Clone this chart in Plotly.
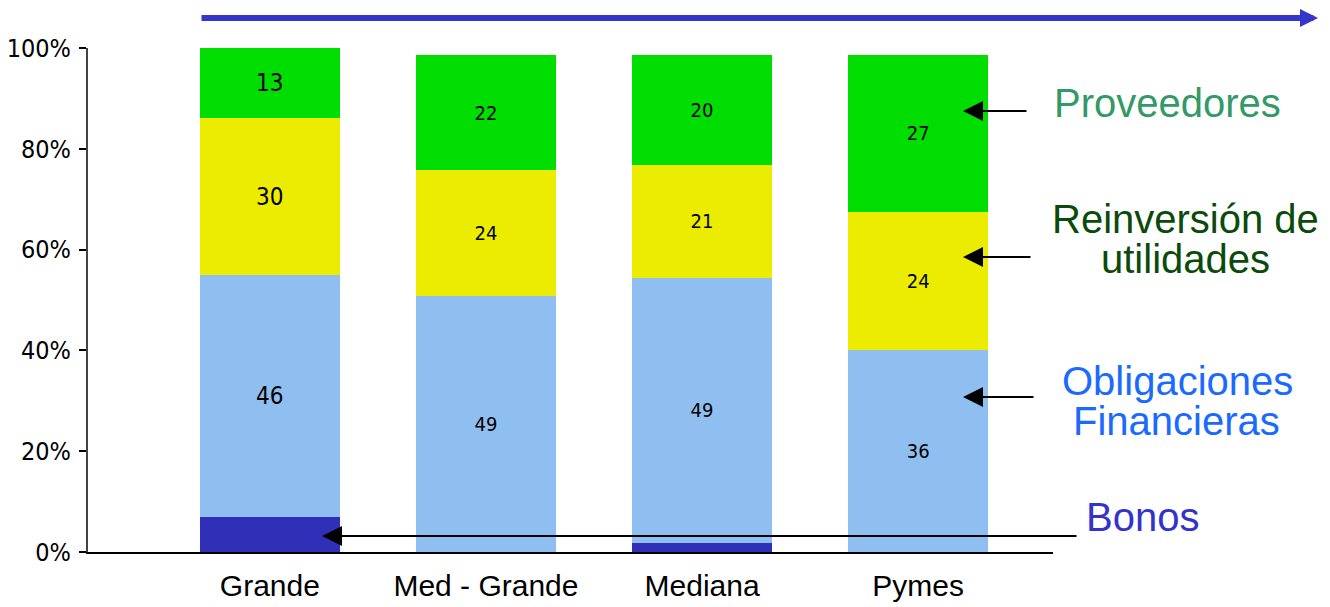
import plotly.graph_objects as go

# ---- data (shares in % of each bar) ----
categories = ["Grande", "Med - Grande", "Mediana", "Pymes"]
bonos = [6.9, 0.0, 1.8, 0.0]
obligaciones = [48.0, 50.8, 52.6, 40.1]
reinversion = [31.2, 25.0, 22.4, 27.4]
proveedores = [13.9, 22.8, 21.8, 31.2]

# labels printed on the segments
obligaciones_lbl = ["46", "49", "49", "36"]
reinversion_lbl = ["30", "24", "21", "24"]
proveedores_lbl = ["13", "22", "20", "27"]

y_ticks = [0, 20, 40, 60, 80, 100]
y_tick_text = ["0%", "20%", "40%", "60%", "80%", "100%"]

# ---- figure geometry ----
W, H = 1330, 607
ML, MR, MT, MB = 88, 277, 48, 55
PW, PH = W - ML - MR, H - MT - MB


def px(x):
    return (x - ML) / PW


def py(y):
    return (H - MB - y) / PH


NARROW = "DejaVu Sans Condensed, Liberation Sans Narrow, sans-serif"
SANS = "Liberation Sans, Arial, sans-serif"
lbl_sizes = [24, 20, 20, 20]

fig = go.Figure()
series = [
    ("Bonos", bonos, None, "#2f2fb8"),
    ("Obligaciones Financieras", obligaciones, obligaciones_lbl, "#8fbff0"),
    ("Reinversión de utilidades", reinversion, reinversion_lbl, "#ecec00"),
    ("Proveedores", proveedores, proveedores_lbl, "#00dd00"),
]
for name, vals, lbl, col in series:
    fig.add_trace(go.Bar(
        name=name, x=categories, y=vals,
        text=lbl, textposition="inside" if lbl else "none",
        insidetextanchor="middle",
        textfont=dict(family=NARROW, size=lbl_sizes, color="black"),
        marker=dict(color=col, line=dict(width=0)),
        width=0.648, hoverinfo="skip", showlegend=False,
    ))

fig.update_layout(
    width=W, height=H, barmode="stack",
    margin=dict(l=ML, r=MR, t=MT, b=MB, pad=0),
    paper_bgcolor="white", plot_bgcolor="white",
    xaxis=dict(range=[-0.8415, 3.624], showgrid=False, showline=True,
               linecolor="black", linewidth=2, ticks="", automargin=False,
               tickfont=dict(family=SANS, size=30, color="black"),
               ticklabelstandoff=6),
    yaxis=dict(range=[0, 100], tickvals=y_ticks, ticktext=y_tick_text,
               showgrid=False, zeroline=False, showline=True, automargin=False,
               linecolor="#444444", linewidth=2, ticks="outside",
               ticklen=7, tickwidth=2, tickcolor="black",
               tickfont=dict(family=NARROW, size=25, color="black"),
               ticklabelstandoff=3),
)

ann = []
# text labels on the right
texts = [
    ("Proveedores", 1167, 103, "#339966"),
    ("Reinversión de", 1185, 219, "#0a4a0a"),
    ("utilidades", 1185, 259, "#0a4a0a"),
    ("Obligaciones", 1177, 381, "#1a6aff"),
    ("Financieras", 1176, 421, "#1a6aff"),
    ("Bonos", 1142, 517, "#3333cc"),
]
for t, x, y, c in texts:
    ann.append(dict(text=t, x=px(x), y=py(y), xref="paper", yref="paper",
                    xanchor="center", yanchor="middle", showarrow=False,
                    borderpad=0, font=dict(family=SANS, size=40, color=c)))

# black arrows: (head_x, head_y, tail_x)
arrows = [(963, 111, 1028), (963, 257, 1032), (963, 397, 1035), (322, 536, 1078)]
for hx, hy, tx in arrows:
    ann.append(dict(text="", x=px(hx), y=py(hy), xref="paper", yref="paper",
                    ax=tx - hx, ay=0, showarrow=True, arrowhead=2,
                    arrowsize=2, arrowwidth=2, arrowcolor="black"))

# top blue arrow
ann.append(dict(text="", x=px(1318), y=py(18), xref="paper", yref="paper",
                ax=200 - 1318, ay=0, showarrow=True, arrowhead=2,
                arrowsize=0.6, arrowwidth=6, arrowcolor="#3535cc"))

fig.update_layout(annotations=ann)
fig.write_html(
    "out.html",
    config={"displayModeBar": False},
    post_script="document.body.style.margin='0';document.body.style.overflow='hidden';",
)
